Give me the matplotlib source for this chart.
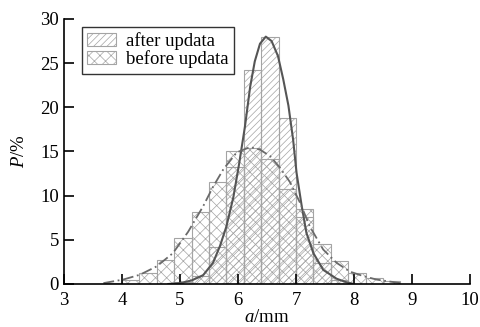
import matplotlib
import matplotlib.pyplot as plt

matplotlib.use('agg')

# bins are 0.3 mm wide, values in percent
bin_width = 0.3
before_left = [3.7, 4.0, 4.3, 4.6, 4.9, 5.2, 5.5, 5.8, 6.1, 6.4, 6.7, 7.0, 7.3, 7.6, 7.9, 8.2, 8.5]
before_vals = [0.1, 0.4, 1.2, 2.7, 5.2, 8.2, 11.6, 15.0, 15.4, 14.2, 10.7, 8.5, 4.5, 2.6, 1.2, 0.7, 0.3]
after_left = [4.9, 5.2, 5.5, 5.8, 6.1, 6.4, 6.7, 7.0, 7.3, 7.6]
after_vals = [0.2, 0.9, 4.2, 13.2, 24.2, 28.0, 18.8, 7.6, 2.4, 0.5]

# fitted curves
after_fit_x = [4.80, 5.00, 5.20, 5.40, 5.57, 5.69, 5.80, 5.92, 6.02, 6.12, 6.21, 6.29, 6.38, 6.48,
               6.58, 6.69, 6.78, 6.87, 6.95, 7.01, 7.10, 7.18, 7.30, 7.47, 7.70, 7.87, 8.00]
after_fit_y = [0.0, 0.1, 0.4, 1.0, 2.4, 4.3, 6.5, 9.8, 13.6, 17.8, 22.3, 25.2, 27.2, 28.0,
               27.5, 25.8, 23.2, 20.2, 16.4, 12.6, 8.8, 5.8, 3.5, 1.6, 0.6, 0.2, 0.0]
before_fit_x = [3.68, 4.02, 4.31, 4.60, 4.88, 5.14, 5.40, 5.57, 5.75, 5.98, 6.21, 6.38, 6.55,
                6.72, 6.90, 7.07, 7.24, 7.47, 7.70, 7.93, 8.16, 8.39, 8.80]
before_fit_y = [0.1, 0.5, 1.05, 2.0, 3.5, 5.9, 8.8, 11.0, 13.0, 14.9, 15.5, 15.2, 14.5,
                13.2, 11.5, 9.2, 6.5, 3.9, 2.4, 1.4, 0.9, 0.5, 0.1]

x_ticks = [3, 4, 5, 6, 7, 8, 9, 10]
y_ticks = [0, 5, 10, 15, 20, 25, 30]

plt.rcParams['font.family'] = 'Liberation Serif'
plt.rcParams['mathtext.fontset'] = 'custom'
plt.rcParams['mathtext.rm'] = 'Liberation Serif'
plt.rcParams['mathtext.it'] = 'Liberation Serif:italic'
plt.rcParams['hatch.linewidth'] = 0.5

fig = plt.figure(figsize=(4.81, 3.27), dpi=100)
ax = fig.add_axes([0.133, 0.1315, 0.844, 0.8105])

bar_grey = '#a4a4a4'
ax.bar(after_left, after_vals, width=bin_width, align='edge', facecolor='none',
       edgecolor=bar_grey, hatch='/////', linewidth=0.8, label='after updata')
ax.bar(before_left, before_vals, width=bin_width, align='edge', facecolor='none',
       edgecolor=bar_grey, hatch='xxx', linewidth=0.8, label='before updata')

ax.plot(after_fit_x, after_fit_y, color='#555555', linewidth=1.5)
ax.plot(before_fit_x, before_fit_y, color='#6a6a6a', linewidth=1.3,
        linestyle=(0, (6, 2, 1, 2)))

ax.set_xlim(3, 10)
ax.set_ylim(0, 30)
ax.set_xticks(x_ticks)
ax.set_yticks(y_ticks)
ax.spines['top'].set_visible(False)
ax.spines['right'].set_visible(False)
for s in ['left', 'bottom']:
    ax.spines[s].set_linewidth(1.2)
ax.tick_params(axis='both', direction='in', length=7, width=1.2, labelsize=13.5)
ax.tick_params(axis='x', pad=6)

ax.set_xlabel('$a$/mm', fontsize=13.5, labelpad=0)
ax.set_ylabel('$P$/%', fontsize=13.5, labelpad=9)

leg = ax.legend(loc='upper left', bbox_to_anchor=(0.0436, 0.971), borderaxespad=0,
                fontsize=13.5, frameon=True, fancybox=False, edgecolor='black',
                handlelength=1.55, handleheight=0.72, labelspacing=0.0,
                borderpad=0.3, handletextpad=0.5)
leg.get_frame().set_linewidth(1.0)

fig.savefig('out.png', dpi=100)
plt.close()
